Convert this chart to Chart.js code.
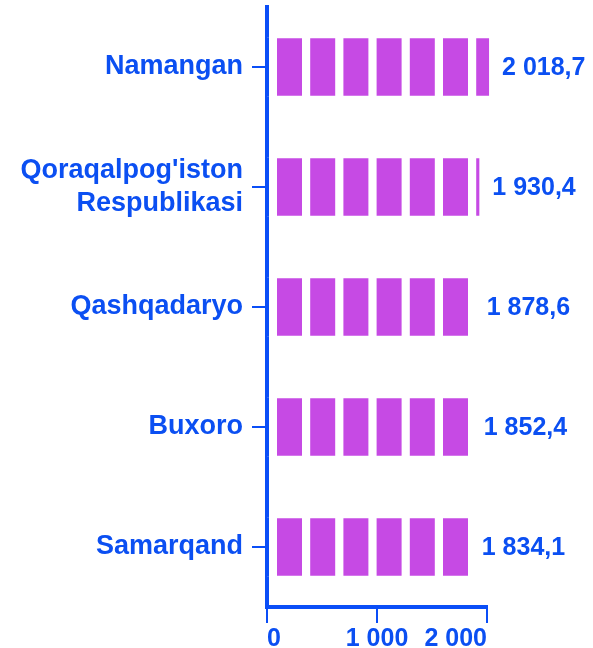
<!DOCTYPE html>
<html>
<head>
<meta charset="utf-8">
<script src="https://cdn.jsdelivr.net/npm/chart.js@4/dist/chart.umd.min.js"></script>
<style>
  html, body { margin: 0; padding: 0; background: #fff; }
  #wrap { width: 593px; height: 648px; }
</style>
</head>
<body>
<div id="wrap"><canvas id="regionChart" width="593" height="648"></canvas></div>
<script>
// regions and their values
const categories = ['Namangan', ["Qoraqalpog'iston", 'Respublikasi'], 'Qashqadaryo', 'Buxoro', 'Samarqand'];
const values = [2018.7, 1930.4, 1878.6, 1852.4, 1834.1];
const tickValues = [0, 1000, 2000];

const BLUE = '#0b4ff2';
const AXIS = '#0a4ef7';
const PURPLE = '#c64ae4';
const FONT = "'Liberation Sans', Arial, sans-serif";

function fmt(v, dec) {
  var parts = v.toFixed(dec).split('.');
  var s = parts[0].replace(/\B(?=(\d{3})+(?!\d))/g, ' ');
  return parts.length > 1 ? s + ',' + parts[1] : s;
}

// white gaps that cut each bar into blocks, plus the value labels
const blocksAndLabels = {
  id: 'blocksAndLabels',
  afterDatasetsDraw: function (chart) {
    var ctx = chart.ctx;
    var meta = chart.getDatasetMeta(0);
    var zero = chart.scales.x.getPixelForValue(0);
    var period = 33.2, block = 25, lead = 10;
    ctx.save();
    meta.data.forEach(function (bar, i) {
      var right = Math.max(bar.x, bar.base);
      var top = bar.y - bar.height / 2 - 1;
      var h = bar.height + 2;
      ctx.fillStyle = '#fff';
      ctx.fillRect(zero, top, lead, h);
      for (var k = 0; ; k++) {
        var gs = zero + lead + k * period + block;
        if (gs >= right) break;
        var ge = Math.min(zero + lead + (k + 1) * period, right + 1);
        ctx.fillRect(gs, top, ge - gs, h);
      }
      // put the axis line back where the bar covered it
      ctx.fillStyle = AXIS;
      ctx.fillRect(zero - 2, top, 4, h);
      ctx.fillStyle = BLUE;
      ctx.font = 'bold 25px ' + FONT;
      ctx.textAlign = 'left';
      ctx.textBaseline = 'middle';
      ctx.fillText(fmt(values[i], 1), right + 13, bar.y + 1);
    });
    ctx.restore();
  }
};

new Chart(document.getElementById('regionChart'), {
  type: 'bar',
  data: {
    labels: categories,
    datasets: [{
      data: values,
      backgroundColor: PURPLE,
      barPercentage: 0.48,
      categoryPercentage: 1,
      clip: false
    }]
  },
  options: {
    indexAxis: 'y',
    responsive: false,
    animation: false,
    layout: { padding: { top: 7, right: 106, bottom: 0, left: 0 } },
    plugins: { legend: { display: false }, tooltip: { enabled: false } },
    scales: {
      x: {
        min: 0,
        max: 2000,
        afterBuildTicks: function (s) { s.ticks = tickValues.map(function (v) { return { value: v }; }); },
        afterFit: function (s) { s.height = 41; s.paddingLeft = 0; s.paddingRight = 0; },
        grid: { drawOnChartArea: false, color: AXIS, lineWidth: 2, tickLength: 16 },
        border: { color: AXIS, width: 4 },
        ticks: {
          align: 'inner',
          autoSkip: false,
          maxRotation: 0,
          padding: 1,
          color: BLUE,
          font: { family: FONT, size: 25, weight: 'bold' },
          callback: function (v) { return fmt(v, 0); }
        }
      },
      y: {
        afterFit: function (s) { s.width = 267; s.paddingTop = 0; s.paddingBottom = 0; },
        grid: { drawOnChartArea: false, offset: false, color: AXIS, lineWidth: 2, tickLength: 15 },
        border: { color: AXIS, width: 4 },
        ticks: {
          autoSkip: false,
          padding: 9,
          color: BLUE,
          font: { family: FONT, size: 27, weight: 'bold', lineHeight: 1.2 }
        }
      }
    }
  },
  plugins: [blocksAndLabels]
});
</script>
</body>
</html>
